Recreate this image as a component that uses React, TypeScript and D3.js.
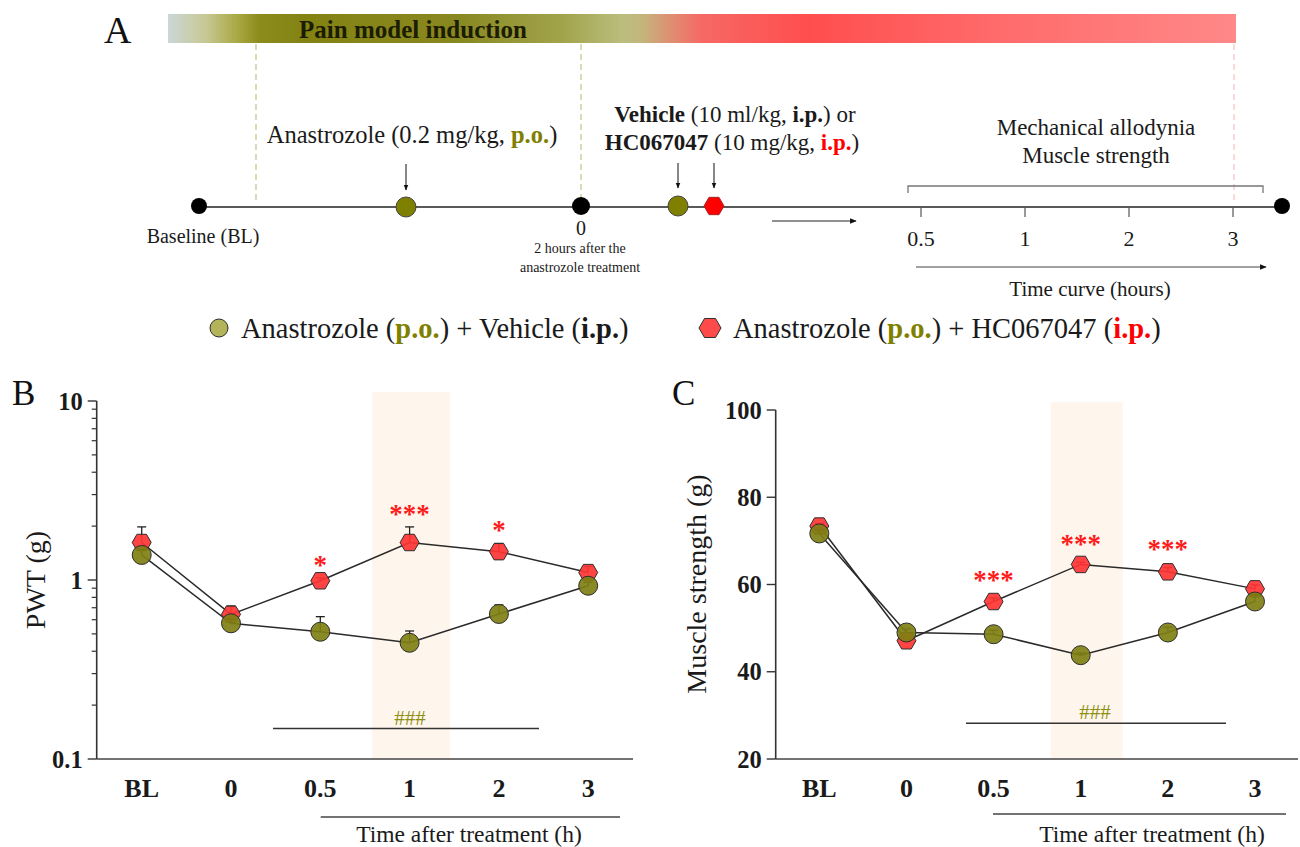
import React, { useEffect, useRef } from 'react';
import * as d3 from 'd3';

const FONT = "'Liberation Serif', 'Times New Roman', Times, serif";

// x categories shared by panels B and C
const timepoints = ['BL', '0', '0.5', '1', '2', '3'];

// Panel B: paw withdrawal threshold (g), mean and upper SEM
const pwtVehicle = [1.38, 0.573, 0.514, 0.446, 0.646, 0.929];
const pwtVehicleErr = [0.1, 0.03, 0.11, 0.073, 0.08, 0.04];
const pwtHC = [1.62, 0.643, 0.99, 1.62, 1.44, 1.1];
const pwtHCErr = [0.36, 0.073, 0.04, 0.36, 0.16, 0.09];
const pwtStars = ['', '', '*', '***', '*', ''];
const pwtTicks = [0.1, 1, 10];

// Panel C: muscle strength (g)
const msVehicle = [71.7, 49.0, 48.6, 43.8, 49.0, 56.1];
const msVehicleErr = [0.8, 0.8, 0.9, 0.5, 1.2, 1.5];
const msHC = [73.4, 47.1, 56.1, 64.6, 62.9, 59.0];
const msHCErr = [0.6, 0.5, 0.8, 0.5, 1.0, 0.9];
const msStars = ['', '', '***', '***', '***', ''];
const msTicks = [20, 40, 60, 80, 100];

// Panel A timeline hours
const timelineHours = ['0.5', '1', '2', '3'];

const OLIVE = '#7f7f14';
const RED = '#ff3434';
const EDGE = '#2e2e2e';

type Part = { t: string; b?: boolean; c?: string };

const rich = (
  sel: d3.Selection<any, unknown, null, undefined>,
  x: number,
  y: number,
  size: number,
  anchor: string,
  parts: Part[]
) => {
  const t = sel
    .append('text')
    .attr('x', x)
    .attr('y', y)
    .attr('font-size', size)
    .attr('font-family', FONT)
    .attr('text-anchor', anchor)
    .style('white-space', 'pre')
    .attr('fill', '#1a1a1a');
  parts.forEach((p) => {
    t.append('tspan')
      .attr('font-weight', p.b ? 'bold' : 'normal')
      .attr('fill', p.c || '#1a1a1a')
      .text(p.t);
  });
  return t;
};

const hexPath = (r: number) => {
  const pts = d3.range(6).map((i) => {
    const a = (Math.PI / 3) * i;
    return [r * Math.cos(a), r * Math.sin(a)];
  });
  return 'M' + pts.map((p) => p.join(',')).join('L') + 'Z';
};

type PanelCfg = {
  letter: string;
  letterX: number;
  axisX: number;
  axisRight: number;
  xRange: [number, number];
  y: any;
  ticks: number[];
  minor: number[];
  tickFmt: (v: number) => string;
  title: string;
  titleX: number;
  titleY: number;
  vehicle: number[];
  vehicleErr: number[];
  hc: number[];
  hcErr: number[];
  stars: string[];
  starGap: number;
  shade: [number, number, number];
  hash: { x1: number; x2: number; v: number; tx: number };
  under: [number, number, number];
  timeTitleX: number;
};

const drawPanel = (svg: d3.Selection<SVGSVGElement, unknown, null, undefined>, cfg: PanelCfg) => {
  const g = svg.append('g');
  const x = d3.scalePoint<string>().domain(timepoints).range(cfg.xRange);
  const y = cfg.y;
  const [yBottom, yTop] = y.range();

  g.append('text')
    .attr('x', cfg.letterX)
    .attr('y', 405)
    .attr('font-family', FONT)
    .attr('font-size', 35)
    .attr('fill', '#111')
    .text(cfg.letter);

  // highlighted 1 h band
  g.append('rect')
    .attr('x', cfg.shade[0])
    .attr('y', cfg.shade[2])
    .attr('width', cfg.shade[1] - cfg.shade[0])
    .attr('height', yBottom - cfg.shade[2])
    .attr('fill', '#fef6ed');

  // axes
  g.append('line')
    .attr('x1', cfg.axisX).attr('x2', cfg.axisX)
    .attr('y1', yTop).attr('y2', yBottom)
    .attr('stroke', '#333').attr('stroke-width', 1.6);
  g.append('line')
    .attr('x1', cfg.axisX).attr('x2', cfg.axisRight)
    .attr('y1', yBottom).attr('y2', yBottom)
    .attr('stroke', '#444').attr('stroke-width', 1.6);

  cfg.ticks.forEach((v) => {
    g.append('line')
      .attr('x1', cfg.axisX - 9).attr('x2', cfg.axisX)
      .attr('y1', y(v)).attr('y2', y(v))
      .attr('stroke', '#333').attr('stroke-width', 1.4);
    g.append('text')
      .attr('x', cfg.axisX - 14)
      .attr('y', y(v) + 8.5)
      .attr('text-anchor', 'end')
      .attr('font-family', FONT)
      .attr('font-weight', 'bold')
      .attr('font-size', 24.5)
      .attr('fill', '#1a1a1a')
      .text(cfg.tickFmt(v));
  });
  cfg.minor.forEach((v) => {
    g.append('line')
      .attr('x1', cfg.axisX - 5).attr('x2', cfg.axisX)
      .attr('y1', y(v)).attr('y2', y(v))
      .attr('stroke', '#333').attr('stroke-width', 1.2);
  });

  timepoints.forEach((t) => {
    g.append('text')
      .attr('x', x(t)!)
      .attr('y', 797)
      .attr('text-anchor', 'middle')
      .attr('font-family', FONT)
      .attr('font-weight', 'bold')
      .attr('font-size', 26)
      .attr('fill', '#1a1a1a')
      .text(t);
  });

  g.append('text')
    .attr('transform', `translate(${cfg.titleX},${cfg.titleY}) rotate(-90)`)
    .attr('text-anchor', 'middle')
    .attr('font-family', FONT)
    .attr('font-size', 28)
    .attr('fill', '#1a1a1a')
    .text(cfg.title);

  // ### bar
  g.append('line')
    .attr('x1', cfg.hash.x1).attr('x2', cfg.hash.x2)
    .attr('y1', y(cfg.hash.v)).attr('y2', y(cfg.hash.v))
    .attr('stroke', '#333').attr('stroke-width', 1.4);
  g.append('text')
    .attr('x', cfg.hash.tx)
    .attr('y', y(cfg.hash.v) - 4)
    .attr('text-anchor', 'middle')
    .attr('font-family', FONT)
    .attr('font-size', 21)
    .attr('fill', '#8f8f10')
    .text('###');

  // time after treatment line
  g.append('line')
    .attr('x1', cfg.under[0]).attr('x2', cfg.under[1])
    .attr('y1', cfg.under[2]).attr('y2', cfg.under[2])
    .attr('stroke', '#444').attr('stroke-width', 1.4);
  g.append('text')
    .attr('x', cfg.timeTitleX)
    .attr('y', 842)
    .attr('text-anchor', 'middle')
    .attr('font-family', FONT)
    .attr('font-size', 23.5)
    .attr('fill', '#1a1a1a')
    .text('Time after treatment (h)');

  const line = d3
    .line<number>()
    .x((_, i) => x(timepoints[i])!)
    .y((d) => y(d));

  const series = [
    { vals: cfg.hc, err: cfg.hcErr, shape: 'hex', fill: RED },
    { vals: cfg.vehicle, err: cfg.vehicleErr, shape: 'circle', fill: OLIVE },
  ];

  series.forEach((s) => {
    g.append('path')
      .attr('d', line(s.vals)!)
      .attr('fill', 'none')
      .attr('stroke', '#2a2a2a')
      .attr('stroke-width', 1.5);
  });

  series.forEach((s) => {
    const sg = g.append('g');
    s.vals.forEach((v, i) => {
      const cx = x(timepoints[i])!;
      const top = y(v + s.err[i]);
      sg.append('line')
        .attr('x1', cx).attr('x2', cx)
        .attr('y1', y(v)).attr('y2', top)
        .attr('stroke', '#222').attr('stroke-width', 1.3);
      sg.append('line')
        .attr('x1', cx - 4.5).attr('x2', cx + 4.5)
        .attr('y1', top).attr('y2', top)
        .attr('stroke', '#222').attr('stroke-width', 1.3);
    });
    s.vals.forEach((v, i) => {
      const cx = x(timepoints[i])!;
      if (s.shape === 'hex') {
        sg.append('path')
          .attr('d', hexPath(9.5))
          .attr('transform', `translate(${cx},${y(v)})`)
          .attr('fill', s.fill)
          .attr('fill-opacity', 0.92)
          .attr('stroke', EDGE)
          .attr('stroke-width', 1);
      } else {
        sg.append('circle')
          .attr('cx', cx)
          .attr('cy', y(v))
          .attr('r', 9.5)
          .attr('fill', s.fill)
          .attr('fill-opacity', 0.92)
          .attr('stroke', EDGE)
          .attr('stroke-width', 1);
      }
    });
  });

  cfg.stars.forEach((s, i) => {
    if (!s) return;
    const cy = y(cfg.hc[i] + cfg.hcErr[i]) - cfg.starGap;
    g.append('text')
      .attr('x', x(timepoints[i])!)
      .attr('y', cy + 13)
      .attr('text-anchor', 'middle')
      .attr('font-family', FONT)
      .attr('font-weight', 'bold')
      .attr('font-size', 27)
      .attr('fill', '#ff1a1a')
      .text(s);
  });
};

const App: React.FC = () => {
  const svgRef = useRef<SVGSVGElement | null>(null);

  useEffect(() => {
    const svgEl = svgRef.current;
    if (!svgEl) return;
    const svg = d3.select(svgEl);
    svg.selectAll('*').remove();

    const defs = svg.append('defs');
    const grad = defs
      .append('linearGradient')
      .attr('id', 'inductionGrad')
      .attr('x1', '0%')
      .attr('x2', '100%')
      .attr('y1', '0%')
      .attr('y2', '0%');
    const stops: [number, string][] = [
      [0, '#cad7d8'],
      [0.035, '#c8c894'],
      [0.065, '#a9a944'],
      [0.085, '#8c8c1c'],
      [0.13, '#838314'],
      [0.27, '#888820'],
      [0.37, '#a2a44c'],
      [0.425, '#babd7c'],
      [0.445, '#c4b47c'],
      [0.47, '#de9072'],
      [0.5, '#f66864'],
      [0.6, '#ff4e4e'],
      [0.78, '#ff6b6b'],
      [1, '#ff8888'],
    ];
    stops.forEach(([o, c]) => grad.append('stop').attr('offset', o).attr('stop-color', c));

    defs
      .append('marker')
      .attr('id', 'arrowHead')
      .attr('viewBox', '0 0 10 10')
      .attr('refX', 9)
      .attr('refY', 5)
      .attr('markerWidth', 6)
      .attr('markerHeight', 6)
      .attr('orient', 'auto')
      .append('path')
      .attr('d', 'M0,1L10,5L0,9Z')
      .attr('fill', '#111');

    // ---------- Panel A ----------
    const a = svg.append('g');
    a.append('text')
      .attr('x', 104).attr('y', 43)
      .attr('font-family', FONT).attr('font-size', 38).attr('fill', '#111')
      .text('A');
    a.append('rect')
      .attr('x', 168).attr('y', 14).attr('width', 1068).attr('height', 29)
      .attr('fill', 'url(#inductionGrad)');
    a.append('text')
      .attr('x', 413).attr('y', 38)
      .attr('text-anchor', 'middle')
      .attr('font-family', FONT).attr('font-weight', 'bold').attr('font-size', 25)
      .attr('fill', '#1c1c02')
      .text('Pain model induction');

    [[256, '#c9c98c'], [581, '#c9c98c'], [1234, '#f5c6c6']].forEach(([xx, c]) => {
      a.append('line')
        .attr('x1', xx as number).attr('x2', xx as number)
        .attr('y1', 44).attr('y2', 200)
        .attr('stroke', c as string).attr('stroke-width', 1.3)
        .attr('stroke-dasharray', '6,4');
    });

    a.append('line')
      .attr('x1', 199).attr('x2', 1282).attr('y1', 207).attr('y2', 207)
      .attr('stroke', '#222').attr('stroke-width', 1.6);

    [[199, 8], [581, 9], [1282, 8]].forEach(([cx, r]) => {
      a.append('circle').attr('cx', cx).attr('cy', 206).attr('r', r).attr('fill', '#000');
    });
    a.append('circle').attr('cx', 406).attr('cy', 207).attr('r', 10)
      .attr('fill', '#808000').attr('stroke', '#444').attr('stroke-width', 1);
    a.append('circle').attr('cx', 678).attr('cy', 206).attr('r', 10)
      .attr('fill', '#808000').attr('stroke', '#444').attr('stroke-width', 1);
    a.append('path').attr('d', hexPath(10)).attr('transform', 'translate(714,206)')
      .attr('fill', '#ff0000').attr('stroke', '#aa2222').attr('stroke-width', 1);

    [[406, 164, 190], [678, 163, 188], [714, 163, 188]].forEach(([xx, y1, y2]) => {
      a.append('line')
        .attr('x1', xx).attr('x2', xx).attr('y1', y1).attr('y2', y2)
        .attr('stroke', '#111').attr('stroke-width', 1)
        .attr('marker-end', 'url(#arrowHead)');
    });

    rich(a, 203, 243, 20, 'middle', [{ t: 'Baseline (BL)' }]);
    rich(a, 412, 143, 24.5, 'middle', [
      { t: 'Anastrozole (0.2 mg/kg, ' },
      { t: 'p.o.', b: true, c: '#808000' },
      { t: ')' },
    ]);
    rich(a, 581, 235, 20, 'middle', [{ t: '0' }]);
    rich(a, 580, 253, 14, 'middle', [{ t: '2 hours after the' }]);
    rich(a, 580, 272, 14, 'middle', [{ t: 'anastrozole treatment' }]);
    rich(a, 735, 122, 23, 'middle', [
      { t: 'Vehicle', b: true },
      { t: ' (10 ml/kg, ' },
      { t: 'i.p.', b: true },
      { t: ') or' },
    ]);
    rich(a, 732, 150, 23, 'middle', [
      { t: 'HC067047', b: true },
      { t: ' (10 mg/kg, ' },
      { t: 'i.p.', b: true, c: '#ff0000' },
      { t: ')' },
    ]);
    rich(a, 1096, 135, 23, 'middle', [{ t: 'Mechanical allodynia' }]);
    rich(a, 1096, 163, 23, 'middle', [{ t: 'Muscle strength' }]);

    a.append('path')
      .attr('d', 'M908,193V186H1263V193')
      .attr('fill', 'none').attr('stroke', '#777').attr('stroke-width', 1.3);

    const hx = d3.scalePoint<string>().domain(timelineHours).range([921, 1233]);
    timelineHours.forEach((h) => {
      a.append('line')
        .attr('x1', hx(h)!).attr('x2', hx(h)!).attr('y1', 207).attr('y2', 217)
        .attr('stroke', '#555').attr('stroke-width', 1.2);
      rich(a, hx(h)!, 246, 22, 'middle', [{ t: h }]);
    });

    a.append('line')
      .attr('x1', 772).attr('x2', 856).attr('y1', 221).attr('y2', 221)
      .attr('stroke', '#222').attr('stroke-width', 1.1)
      .attr('marker-end', 'url(#arrowHead)');
    a.append('line')
      .attr('x1', 916).attr('x2', 1266).attr('y1', 267).attr('y2', 267)
      .attr('stroke', '#444').attr('stroke-width', 1.1)
      .attr('marker-end', 'url(#arrowHead)');
    rich(a, 1090, 296, 21, 'middle', [{ t: 'Time curve (hours)' }]);

    // ---------- Legend ----------
    const lg = svg.append('g');
    lg.append('circle').attr('cx', 219).attr('cy', 328).attr('r', 9)
      .attr('fill', '#b3b35a').attr('stroke', EDGE).attr('stroke-width', 1);
    rich(lg, 241, 338, 28.5, 'start', [
      { t: 'Anastrozole (' },
      { t: 'p.o.', b: true, c: '#808000' },
      { t: ') + Vehicle (' },
      { t: 'i.p.', b: true },
      { t: ')' },
    ]);
    lg.append('path').attr('d', hexPath(11)).attr('transform', 'translate(710,328)')
      .attr('fill', '#ff4a4a').attr('stroke', EDGE).attr('stroke-width', 1);
    rich(lg, 733, 338, 28.5, 'start', [
      { t: 'Anastrozole (' },
      { t: 'p.o.', b: true, c: '#808000' },
      { t: ') + HC067047 (' },
      { t: 'i.p.', b: true, c: '#ff0000' },
      { t: ')' },
    ]);

    // ---------- Panel B ----------
    const yB = d3.scaleLog().domain([0.1, 10]).range([759, 401]);
    const minorB = [2, 3, 4, 5, 6, 7, 8, 9].flatMap((m) => [m / 10, m]);
    drawPanel(svg, {
      letter: 'B',
      letterX: 12,
      axisX: 96.7,
      axisRight: 633,
      xRange: [141.7, 588.2],
      y: yB,
      ticks: pwtTicks,
      minor: minorB,
      tickFmt: (v) => String(v),
      title: 'PWT (g)',
      titleX: 45,
      titleY: 580,
      vehicle: pwtVehicle,
      vehicleErr: pwtVehicleErr,
      hc: pwtHC,
      hcErr: pwtHCErr,
      stars: pwtStars,
      starGap: 17,
      shade: [372, 450, 392],
      hash: { x1: 273, x2: 539, v: 0.148, tx: 410 },
      under: [320.7, 620, 817],
      timeTitleX: 469,
    });

    // ---------- Panel C ----------
    const yC = d3.scaleLinear().domain([20, 100]).range([759, 410]);
    drawPanel(svg, {
      letter: 'C',
      letterX: 672,
      axisX: 775.7,
      axisRight: 1298,
      xRange: [819.3, 1255],
      y: yC,
      ticks: msTicks,
      minor: [],
      tickFmt: (v) => String(v),
      title: 'Muscle strength (g)',
      titleX: 706,
      titleY: 584,
      vehicle: msVehicle,
      vehicleErr: msVehicleErr,
      hc: msHC,
      hcErr: msHCErr,
      stars: msStars,
      starGap: 22,
      shade: [1050.7, 1122.7, 402],
      hash: { x1: 966, x2: 1226, v: 28.2, tx: 1095 },
      under: [993, 1286, 814],
      timeTitleX: 1152,
    });
  }, []);

  return (
    <svg
      ref={svgRef}
      width={1300}
      height={847}
      viewBox="0 0 1300 847"
      style={{ position: 'absolute', left: 0, top: 0, background: '#fff' }}
      role="img"
      aria-label="Experimental timeline and PWT / muscle strength time courses"
    />
  );
};

export default App;
